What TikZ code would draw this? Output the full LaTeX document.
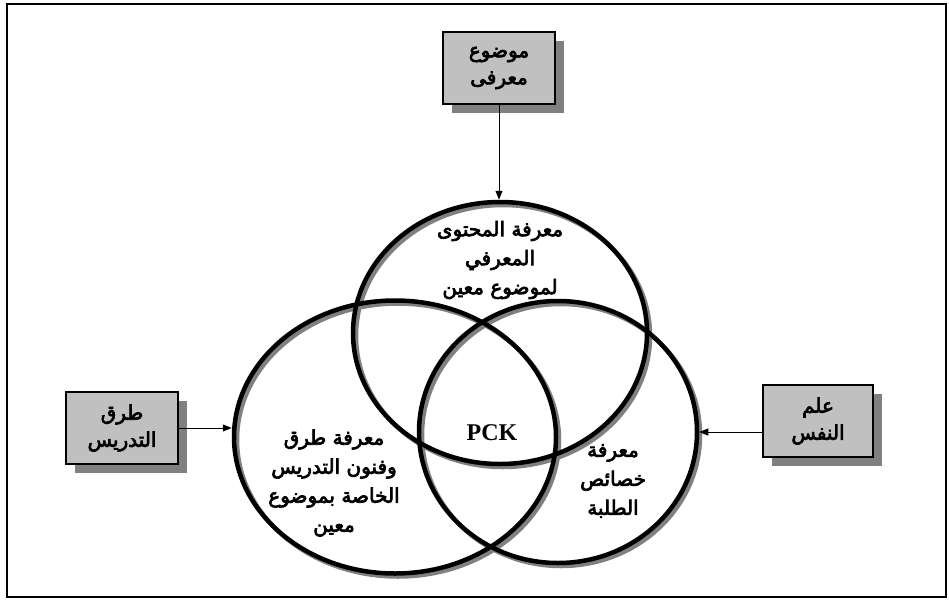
\documentclass[tikz,border=0pt]{standalone}
\usepackage{fontspec}
\setmainfont{Liberation Serif}
\newfontfamily\arabicfont[Script=Arabic,FakeBold=3.5]{DejaVu Sans}
\TeXXeTstate=1
\usetikzlibrary{shapes.geometric,arrows.meta}
\newcommand{\ar}[1]{\beginR #1\endR}
\definecolor{boxgray}{HTML}{C0C0C0}
\definecolor{shgray}{HTML}{808080}
\begin{document}
\begin{tikzpicture}[x=1pt,y=-1pt,
  ring/.style={ellipse, draw=black, line width=4.5pt, inner sep=0pt},
  ringsh/.style={ellipse, draw=shgray, line width=4.5pt, inner sep=0pt},
  box/.style={draw=black, line width=1.3pt, fill=boxgray, minimum width=112pt, minimum height=72pt, inner sep=0pt},
  boxsh/.style={fill=shgray, minimum width=112pt, minimum height=72pt, inner sep=0pt},
  arab/.style={font=\arabicfont\fontsize{20}{29}\selectfont, align=center},
  boxtext/.style={font=\arabicfont\fontsize{20}{27}\selectfont, align=center},
  arr/.style={-{Triangle[length=9pt,width=7pt]}, line width=1pt}]
\useasboundingbox (0,0) rectangle (949,599);
\draw[line width=1.5pt] (7,4) rectangle (946,597);
% circle shadows
\node[ringsh, minimum width=294pt, minimum height=262pt] (tcs) at (503,336) {};
\node[ringsh, minimum width=322pt, minimum height=273pt] (lcs) at (398,440) {};
\node[ringsh, minimum width=278pt, minimum height=262pt] (rcs) at (561,435) {};
% circles
\node[ring, minimum width=294pt, minimum height=262pt] (tc) at (500,333) {};
\node[ring, minimum width=322pt, minimum height=273pt] (lc) at (395,437) {};
\node[ring, minimum width=278pt, minimum height=262pt] (rc) at (558,432) {};
% box shadows
\node[boxsh] (tbs) at (508,77) {};
\node[boxsh] (lbs) at (131,437) {};
\node[boxsh, minimum width=110pt] (rbs) at (827,430) {};
% boxes
\node[box, boxtext] (tbox) at (499,68) {\ar{موضوع}\\\ar{معرفى}};
\node[box, boxtext] (lbox) at (122,428) {\ar{طرق}\\\ar{التدريس}};
\node[box, boxtext, minimum width=110pt] (rbox) at (818,421) {\ar{علم}\\\ar{النفس}};
% texts
\node[arab] (tt) at (500,260) {\ar{معرفة المحتوى}\\\ar{المعرفي}\\\ar{لموضوع معين}};
\node[arab] (lt) at (334,483) {\ar{معرفة طرق}\\\ar{وفنون التدريس}\\\ar{الخاصة بموضوع}\\\ar{معين}};
\node[arab] (rt) at (613,481) {\ar{معرفة}\\\ar{خصائص}\\\ar{الطلبة}};
\node[font=\bfseries\fontsize{24}{28}\selectfont] (pck) at (492,433) {PCK};
% arrows
\draw[arr] (tbox.south) -- (tbox.south |- tc.north);
\draw[arr] (lbox.east) -- (lbox.east -| lc.west);
\draw[arr] (rbox.west |- rc.east) -- (rc.east);
\end{tikzpicture}
\end{document}
